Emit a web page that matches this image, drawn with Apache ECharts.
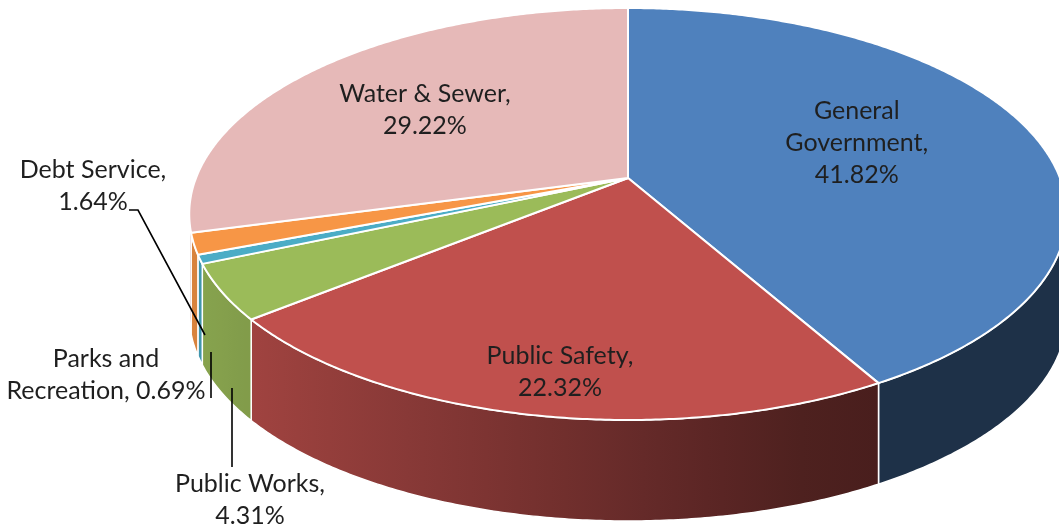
<!DOCTYPE html>
<html>
<head>
<meta charset="utf-8">
<script src="https://cdn.jsdelivr.net/npm/echarts@6/dist/echarts.min.js"></script>
<style>
html,body{margin:0;padding:0;background:#ffffff;}
#chart{width:1059px;height:531px;}
</style>
</head>
<body>
<div id="chart"></div>
<script>
// ---------- data ----------
const categories = ['General Government', 'Public Safety', 'Public Works', 'Parks and Recreation', 'Debt Service', 'Water & Sewer'];
const shares = [41.82, 22.32, 4.31, 0.69, 1.64, 29.22];
// words per label line (text wrapping only)
const labelWrap = [[1, 1, 1], [2, 1], [2, 1], [2, 2], [2, 1], [3, 1]];

// ---------- style / layout ----------
const topColors = ['#4F81BD', '#C0504D', '#9BBB59', '#4BACC6', '#F79646', '#E6B9B8'];
const PIE = { cx: 628, cy: 178, rx: 432, ry: 199.7, k: 0.1748, depth: 101 };
const FONT = '25px Lato';
// inside labels: placed at slice mid-angle, radius fraction; outside labels: text position + leader
const labelLayout = [
  { inside: true, r: 0.575, dAng: -3.5 },
  { inside: true, r: 0.84, dAng: -1.5 },
  { inside: false, x: 250, y: 500, leader: [[232, 467], [232, 388]] },
  { inside: false, x: 106, y: 375, leader: [[211, 398], [211, 352]] },
  { inside: false, x: 93, y: 186, leader: [[129, 210], [138, 210], [205, 335]] },
  { inside: true, r: 0.617, dAng: -1.5 }
];

const total = shares.reduce((a, b) => a + b, 0);
const startAngles = [];
{
  let acc = 0;
  shares.forEach(v => { startAngles.push(acc / total * Math.PI * 2); acc += v; });
}
const endAngle = i => startAngles[i] + shares[i] / total * Math.PI * 2;

function proj(theta, dz, r) {
  r = r == null ? 1 : r;
  const X = r * Math.sin(theta), Y = r * Math.cos(theta);
  const den = 1 + PIE.k * Y;
  return [PIE.cx + PIE.rx * X / den, PIE.cy - PIE.ry * Y / den + (dz || 0)];
}
function arc(a0, a1, dz) {
  const pts = [];
  const n = Math.max(2, Math.ceil((a1 - a0) / (Math.PI / 360)));
  for (let j = 0; j <= n; j++) pts.push(proj(a0 + (a1 - a0) * j / n, dz));
  return pts;
}
// front-facing range of the rim (screen extremes)
const thR = Math.acos(-PIE.k), thL = 2 * Math.PI - Math.acos(-PIE.k);
const xLeft = PIE.cx - PIE.rx / Math.sqrt(1 - PIE.k * PIE.k);
const xRight = PIE.cx + PIE.rx / Math.sqrt(1 - PIE.k * PIE.k);
function shade(hex, f) {
  const n = parseInt(hex.slice(1), 16);
  const c = [(n >> 16) & 255, (n >> 8) & 255, n & 255].map(v => Math.round(v * f));
  return 'rgb(' + c.join(',') + ')';
}
const light = x => Math.max(0.38, 0.88 - 0.68 * (x - xLeft) / (xRight - xLeft));

function labelText(i) {
  const words = categories[i].split(' ');
  words[words.length - 1] += ',';
  words.push(shares[i].toFixed(2) + '%');
  const lines = [];
  let p = 0;
  labelWrap[i].forEach(c => { lines.push(words.slice(p, p + c).join(' ')); p += c; });
  return lines.join('\n');
}

const seriesData = shares.map((v, i) => ({ value: v, name: categories[i] }));

function renderWall(params) {
  const i = params.dataIndex;
  const a0 = Math.max(startAngles[i], thR), a1 = Math.min(endAngle(i), thL);
  if (a1 <= a0) return { type: 'group', children: [] };
  const topArc = arc(a0, a1, 0);
  const botArc = arc(a0, a1, PIE.depth).reverse();
  const pts = topArc.concat(botArc);
  const xs = pts.map(p => p[0]);
  const x0 = Math.min.apply(null, xs), x1 = Math.max.apply(null, xs);
  const stops = [];
  for (let s = 0; s <= 8; s++) {
    stops.push({ offset: s / 8, color: shade(topColors[i], light(x0 + (x1 - x0) * s / 8)) });
  }
  return {
    type: 'polygon',
    shape: { points: pts },
    style: {
      fill: { type: 'linear', x: 0, y: 0, x2: 1, y2: 0, colorStops: stops },
      stroke: '#ffffff', lineWidth: 1.5, lineJoin: 'round'
    }
  };
}

function renderTop(params) {
  const i = params.dataIndex;
  const pts = [proj(0, 0, 0)].concat(arc(startAngles[i], endAngle(i), 0));
  return {
    type: 'polygon',
    shape: { points: pts },
    style: { fill: topColors[i], stroke: '#ffffff', lineWidth: 2, lineJoin: 'round' }
  };
}

function renderLabel(params) {
  const i = params.dataIndex;
  const L = labelLayout[i];
  const children = [];
  let x, y;
  if (L.inside) {
    const mid = (startAngles[i] + endAngle(i)) / 2 + L.dAng * Math.PI / 180;
    [x, y] = proj(mid, 0, L.r);
  } else {
    x = L.x; y = L.y;
    children.push({
      type: 'polyline',
      shape: { points: L.leader },
      style: { stroke: '#000000', lineWidth: 1.6, fill: null }
    });
  }
  children.push({
    type: 'text', x: x, y: y,
    style: {
      text: labelText(i), font: FONT, fill: '#1f1f1f',
      align: 'center', verticalAlign: 'middle', lineHeight: 32
    }
  });
  return { type: 'group', children: children };
}

const chart = echarts.init(document.getElementById('chart'), null, { renderer: 'canvas' });
chart.setOption({
  animation: false,
  backgroundColor: '#ffffff',
  series: [
    { type: 'custom', name: 'walls', coordinateSystem: 'none', silent: true, z: 1, data: seriesData, renderItem: renderWall },
    { type: 'custom', name: 'tops', coordinateSystem: 'none', silent: true, z: 2, data: seriesData, renderItem: renderTop },
    { type: 'custom', name: 'labels', coordinateSystem: 'none', silent: true, z: 3, data: seriesData, renderItem: renderLabel }
  ]
});
</script>
</body>
</html>
